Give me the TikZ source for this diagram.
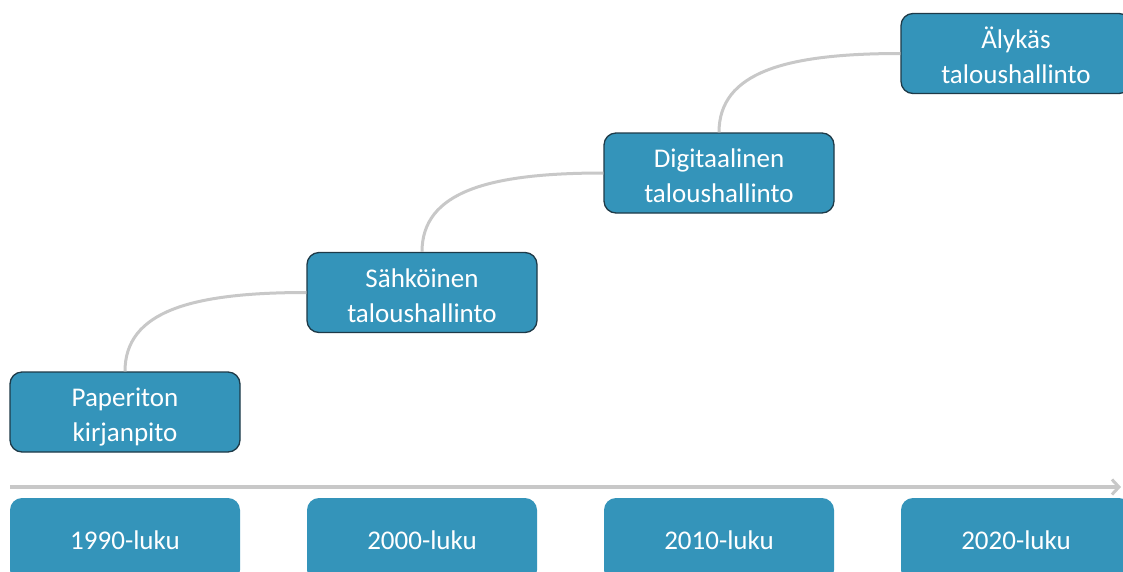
\documentclass[tikz,border=0pt]{standalone}
\usepackage{fontspec}
\setmainfont{Carlito}
\usetikzlibrary{arrows.meta}
\definecolor{boxblue}{HTML}{3494BA}
\definecolor{boxedge}{HTML}{1E3A48}
\definecolor{linegray}{HTML}{C8C8C8}
\begin{document}
\begin{tikzpicture}[x=1pt,y=-1pt,
  stage/.style={fill=boxblue,draw=boxedge,line width=1.3pt,rounded corners=12pt,
    minimum width=230pt,minimum height=80pt,inner sep=0pt,align=center,text=white,
    font=\fontsize{27}{35}\selectfont,text height=65pt,text depth=6pt},
  era/.style={fill=boxblue,rounded corners=12pt,
    minimum width=230pt,minimum height=84pt,inner sep=0pt,align=center,text=white,
    font=\fontsize{27}{34}\selectfont},
  link/.style={draw=linegray,line width=3pt}]
\clip (0,0) rectangle (1123,571);
\fill[white] (0,0) rectangle (1123,571);
% stage boxes
\node[stage] (p) at (125,412) {Paperiton\\kirjanpito};
\node[stage] (s) at (422,292.5) {Sähköinen\\taloushallinto};
\node[stage] (d) at (719,173) {Digitaalinen\\taloushallinto};
\node[stage] (a) at (1016,53.5) {Älykäs\\taloushallinto};
% connectors
\draw[link] (p.north) .. controls ([yshift=60pt]p.north) and ([xshift=-115pt]s.west) .. (s.west);
\draw[link] (s.north) .. controls ([yshift=60pt]s.north) and ([xshift=-115pt]d.west) .. (d.west);
\draw[link] (d.north) .. controls ([yshift=60pt]d.north) and ([xshift=-115pt]a.west) .. (a.west);
% timeline
\coordinate (t0) at (10,487);
\coordinate (t1) at (1121,487);
\draw[draw=linegray,line width=3.5pt,-{Straight Barb[length=7pt,width=15pt,line width=3pt]}] (t0) -- (t1);
% era boxes
\node[era] (e1) at (125,540) {1990-luku};
\node[era] (e2) at (422,540) {2000-luku};
\node[era] (e3) at (719,540) {2010-luku};
\node[era] (e4) at (1016,540) {2020-luku};
\end{tikzpicture}
\end{document}
